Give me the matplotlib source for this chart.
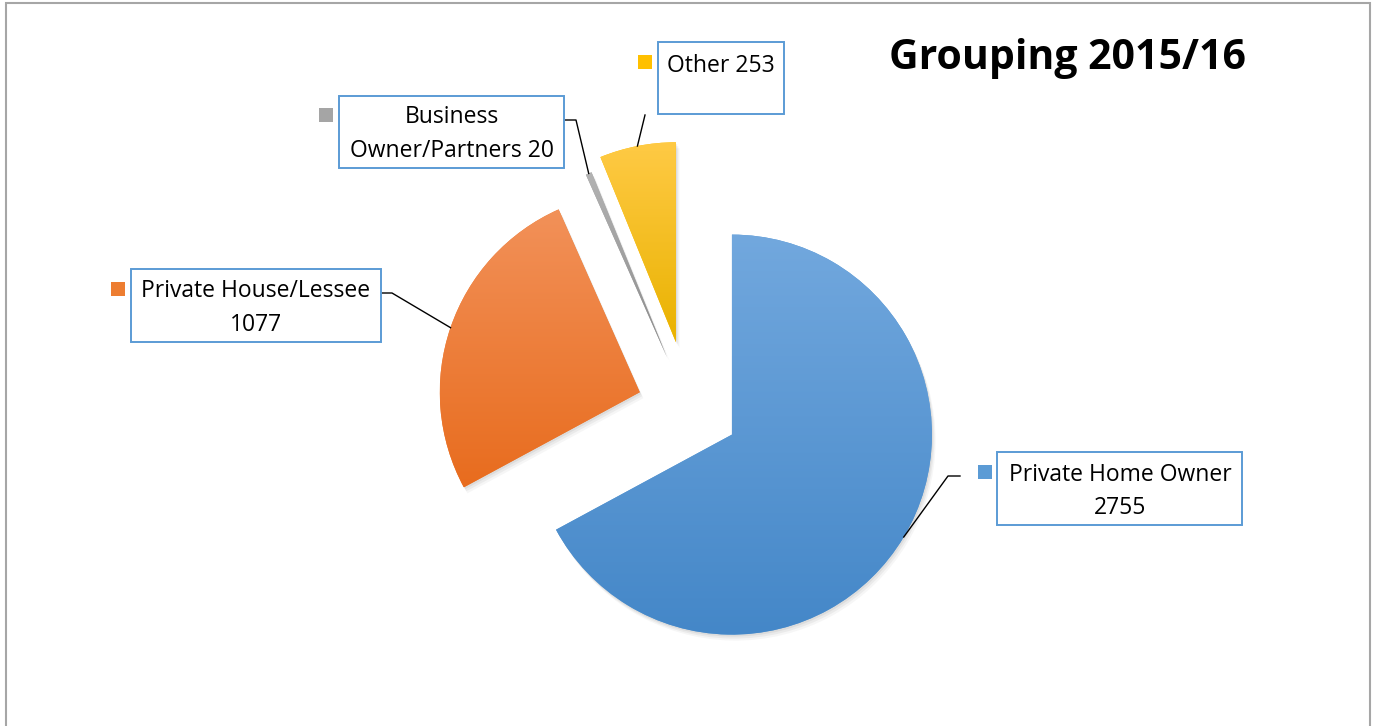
import numpy as np
import matplotlib.pyplot as plt
from matplotlib.patches import Rectangle, PathPatch
from matplotlib.transforms import Affine2D
from matplotlib.colors import to_rgb

plt.rcParams['font.family'] = ['Open Sans', 'DejaVu Sans']

# data
categories = ['Private Home Owner', 'Private House/Lessee', 'Business Owner/Partners', 'Other']
values = [2755, 1077, 20, 253]
label_lines = [['Private Home Owner', '2755'],
               ['Private House/Lessee', '1077'],
               ['Business', 'Owner/Partners 20'],
               ['Other 253']]
explode = [0.25, 0.26, 0.28, 0.34]   # fraction of radius
top_colors = ['#72a8de', '#f29159', '#b3b3b3', '#ffca45']
bottom_colors = ['#4487c8', '#e86c1e', '#8a8a8a', '#e9b200']
mid_colors = ['#5b9bd5', '#ed7d31', '#a5a5a5', '#ffc000']

W, H = 1378, 726
fig = plt.figure(figsize=(W / 100, H / 100), dpi=100)
ax = fig.add_axes([0, 0, 1, 1])


def fy(y):
    # pixel row (from top) -> data y
    return H - y


R = 200
wedges, _ = ax.pie(values, explode=[e * R for e in explode], startangle=90,
                   counterclock=False, radius=R, center=(689, fy(409)),
                   colors=mid_colors, wedgeprops=dict(linewidth=0))

# soft shadows + vertical gradients clipped to each wedge
for w, ct, cb in zip(wedges, top_colors, bottom_colors):
    w.set_zorder(3)
    for k, a in [(6, 0.05), (4, 0.07), (2, 0.09)]:
        sh = PathPatch(w.get_path(), facecolor='#555555', edgecolor='none', alpha=a,
                       transform=Affine2D().translate(k * 0.6, -k) + ax.transData, zorder=2)
        ax.add_patch(sh)
    ext = w.get_path().get_extents()
    t = np.linspace(0, 1, 256)[:, None, None]
    grad = np.array(to_rgb(cb))[None, None, :] * (1 - t) + np.array(to_rgb(ct))[None, None, :] * t
    im = ax.imshow(grad, extent=(ext.x0, ext.x1, ext.y0, ext.y1), origin='lower',
                   aspect='auto', zorder=4, interpolation='bilinear')
    im.set_clip_path(w)

# label boxes (pixel layout)
boxes = [(997, 452, 1242, 525), (131, 269, 381, 342), (339, 96, 564, 168), (658, 42, 784, 114)]
text_x = [1120, 256, 452, 721]
baselines = [[481, 514], [297, 331], [123, 157], [72]]
markers = [(978, 465), (111, 282), (319, 108), (638, 55)]
elbows = [[(960, 476), (948, 476)], [(381, 293), (392, 293)], [(564, 120), (576, 120)], [(645, 115)]]

for i, w in enumerate(wedges):
    x0, y0, x1, y1 = boxes[i]
    ax.add_patch(Rectangle((x0, fy(y1)), x1 - x0, y1 - y0, facecolor='white',
                           edgecolor='#5b9bd5', lw=1.4, zorder=6))
    for line, b in zip(label_lines[i], baselines[i]):
        ax.text(text_x[i], fy(b), line, ha='center', va='baseline', fontsize=16.5,
                color='black', zorder=7)
    mx, my = markers[i]
    ax.add_patch(Rectangle((mx, fy(my + 14)), 14, 14, facecolor=mid_colors[i],
                           edgecolor='none', zorder=6))
    # leader line ends on the arc at the wedge's mid angle
    mid = np.deg2rad((w.theta1 + w.theta2) / 2)
    cx, cy = w.center
    end = (cx + w.r * np.cos(mid), cy + w.r * np.sin(mid))
    pts = [(px, fy(py)) for px, py in elbows[i]] + [end]
    xs, ys = zip(*pts)
    ax.plot(xs, ys, color='black', lw=1.0, zorder=5)

ax.text(1067, fy(69), 'Grouping 2015/16', ha='center', va='baseline',
        fontsize=29.5, fontweight='bold', color='black', zorder=7)

# chart-area border
ax.add_patch(Rectangle((6, -20), 1364, fy(3) + 20, facecolor='none',
                       edgecolor='#a6a6a6', lw=1.5, zorder=1))

ax.set_xlim(0, W)
ax.set_ylim(0, H)
ax.set_aspect('auto')
ax.axis('off')

fig.savefig('out.png', dpi=100, facecolor='white')
